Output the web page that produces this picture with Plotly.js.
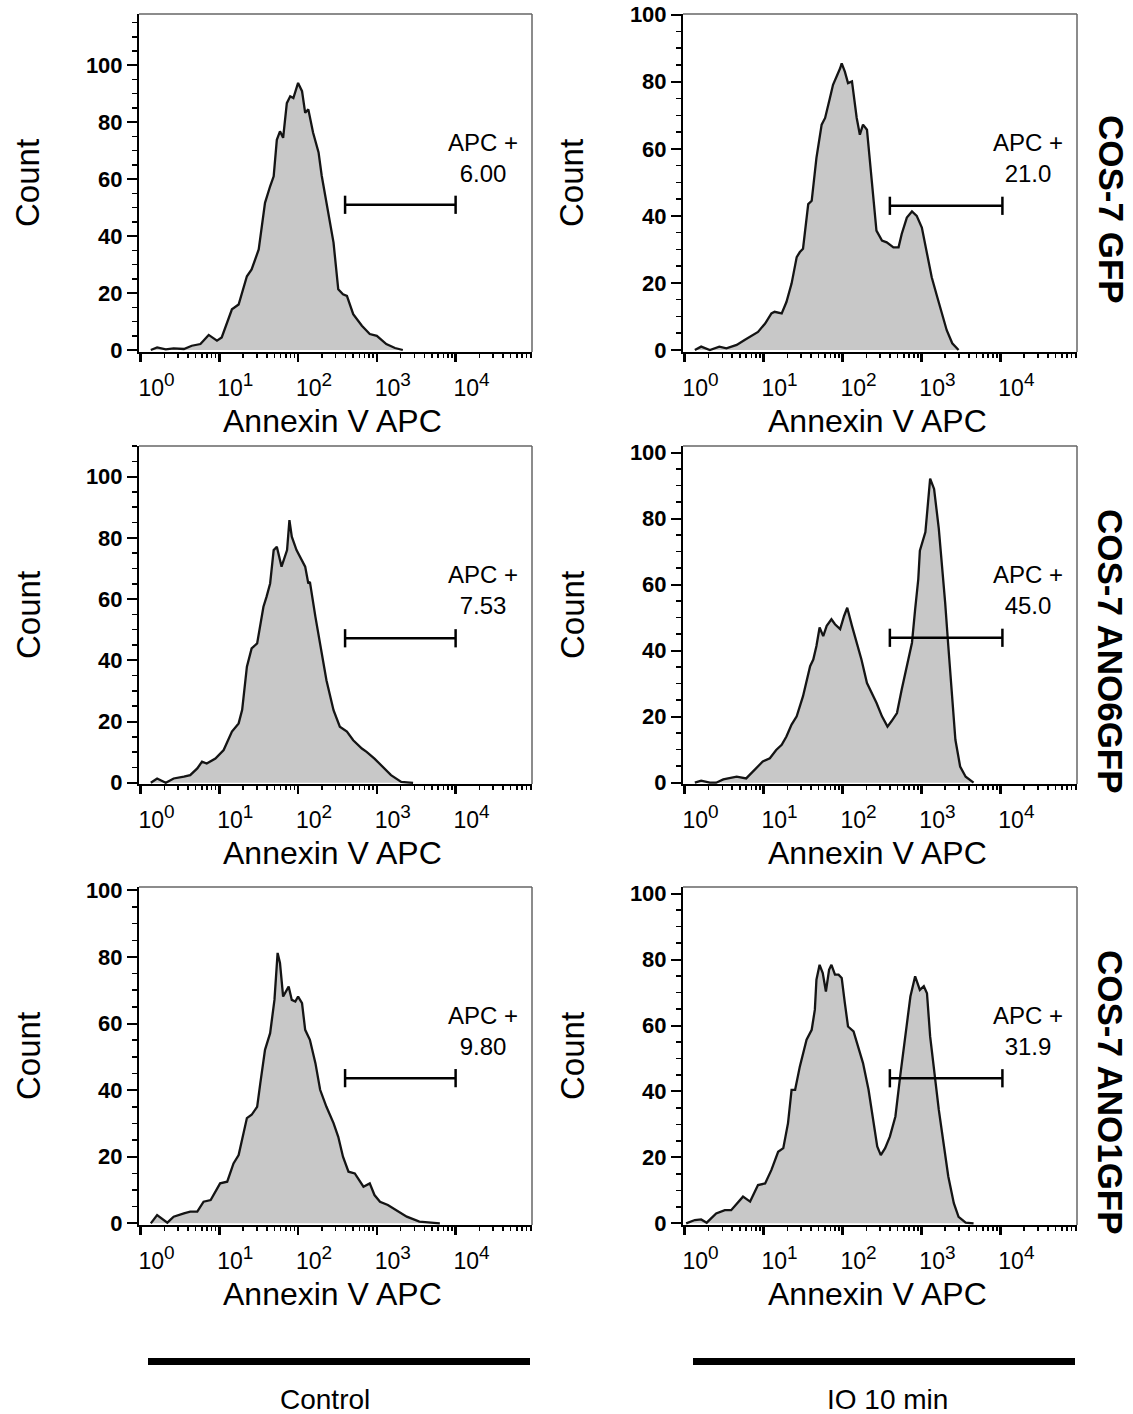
<!DOCTYPE html>
<html>
<head>
<meta charset="utf-8">
<script src="https://cdn.plot.ly/plotly-3.0.1.min.js"></script>
<style>
html,body{margin:0;padding:0;background:#fff;}
#chart{width:1133px;height:1414px;}
</style>
</head>
<body>
<div id="chart"></div>
<script>
// ---------- data (x = log10 of Annexin V APC intensity, y = count) ----------
const gfpCtrlLog   = [0.13,0.21,0.32,0.42,0.55,0.65,0.76,0.865,0.97,1.03,1.16,1.245,1.35,1.41,1.50,1.58,1.645,1.69,1.73,1.77,1.81,1.857,1.90,1.94,2.0,2.05,2.09,2.13,2.19,2.26,2.30,2.36,2.45,2.51,2.57,2.62,2.70,2.81,2.91,3.0,3.12,3.23,3.33];
const gfpCtrlCount = [0,0.9,0.2,0.6,0.35,1.5,2.1,5.3,3.3,4.4,14.3,16,25.9,28.3,35.3,51.7,57.5,61,73.8,76.8,74.5,86.7,89.1,88.5,93.8,90.9,83.3,84.5,76.4,69.4,61.2,51.7,37.7,21.3,19.6,19,12.6,8.5,5.6,5,2.1,0.7,0];

const gfpIoLog   = [0.13,0.21,0.32,0.44,0.53,0.66,0.76,0.87,0.93,1.02,1.10,1.14,1.23,1.29,1.355,1.42,1.46,1.50,1.566,1.61,1.67,1.736,1.78,1.84,1.88,1.97,1.99,2.03,2.07,2.12,2.18,2.22,2.26,2.31,2.37,2.43,2.50,2.56,2.645,2.71,2.75,2.815,2.88,2.94,3.005,3.07,3.13,3.20,3.26,3.32,3.39,3.47];
const gfpIoCount = [0,1,0,1,0.5,1.5,3,4.6,5.4,7.9,10.9,11.4,10.9,14.3,19.8,27.7,29.2,30.2,43.5,44.5,57.3,67.2,69.2,75.1,79.1,84,85.5,83,79.6,80.1,69.2,64.2,67.2,65.7,50.4,35.6,32.6,32.1,30.6,30.6,34.6,39.5,41.3,40,36.5,28.6,21.7,15.8,10.9,5.9,2,0];

const ano6CtrlLog   = [0.13,0.21,0.32,0.42,0.55,0.63,0.72,0.78,0.84,0.95,1.055,1.16,1.245,1.29,1.35,1.41,1.48,1.56,1.60,1.645,1.69,1.73,1.79,1.86,1.89,1.92,1.98,2.025,2.09,2.13,2.15,2.22,2.28,2.36,2.45,2.53,2.62,2.70,2.81,2.87,2.97,3.08,3.18,3.31,3.46];
const ano6CtrlCount = [0,1.4,0,1.4,2,2.5,4.7,6.9,6.3,7.9,10.7,16.7,19.4,23.8,37.9,43.9,45.5,57.5,60.8,65.1,76,77.1,70.6,76,85.8,80.4,76,73.9,70.6,65.1,65.6,54.2,45.5,33.5,23.7,18.3,16.7,13.9,11.2,10.1,7.9,5.2,2.5,0.3,0];

const ano6IoLog   = [0.13,0.21,0.32,0.40,0.49,0.66,0.78,0.89,0.99,1.08,1.16,1.23,1.29,1.355,1.42,1.50,1.59,1.63,1.67,1.71,1.756,1.80,1.86,1.905,1.97,2.02,2.06,2.12,2.18,2.24,2.31,2.37,2.43,2.50,2.57,2.62,2.69,2.75,2.815,2.88,2.92,2.96,2.98,3.05,3.11,3.16,3.22,3.26,3.30,3.34,3.39,3.43,3.49,3.56,3.66];
const ano6IoCount = [0,0.6,0,0,1.0,1.8,1.3,3.9,6.4,7.4,9.9,11.5,14,17.6,20.1,26.2,35.3,37.3,41.4,47,44.4,47.5,49.5,48,46.5,50.5,53,47.5,42.4,37.3,30.2,27.2,24.2,20.1,17,18.6,21.1,28.2,35.3,42.4,52.5,61.7,70.3,75.9,92.1,89,76.9,66.7,54.6,41.4,26.2,13,4.9,1.8,0];

const ano1CtrlLog   = [0.13,0.21,0.34,0.42,0.55,0.63,0.72,0.80,0.89,1.01,1.10,1.18,1.245,1.29,1.35,1.41,1.48,1.52,1.58,1.645,1.70,1.74,1.77,1.81,1.835,1.88,1.92,1.965,2.0,2.05,2.09,2.15,2.22,2.28,2.36,2.45,2.51,2.57,2.64,2.72,2.83,2.91,2.97,3.04,3.14,3.25,3.38,3.54,3.71,3.80];
const ano1CtrlCount = [0,2.5,0.2,2,3,3.5,3.5,6.5,7,12,12.5,18,20.5,25,31.6,32.6,35,42,52.1,57.1,67.1,81.2,78.2,68.1,69.2,71.1,67.1,66.6,68.1,66.1,58.1,55.1,48.1,40.1,35,30.1,26,20,15.5,15,11,12,8.5,6.5,5.5,4,2,0.5,0.2,0];

const ano1IoLog   = [0.02,0.13,0.21,0.28,0.40,0.51,0.59,0.70,0.74,0.83,0.93,1.02,1.10,1.185,1.25,1.31,1.355,1.40,1.46,1.545,1.61,1.65,1.67,1.71,1.75,1.79,1.83,1.86,1.905,1.95,1.99,2.03,2.07,2.14,2.20,2.26,2.33,2.39,2.44,2.485,2.54,2.60,2.67,2.73,2.79,2.86,2.92,2.98,3.03,3.07,3.11,3.16,3.22,3.28,3.34,3.41,3.47,3.56,3.66];
const ano1IoCount = [0,1,1.2,0.2,3,4,4,7.1,8.1,6.6,11.6,12.1,16.2,21.7,22.8,30.4,40.5,40.5,47.6,55.7,58.7,64.8,73.9,78.4,75.9,70.3,76.9,78.4,75.4,75.4,74.4,66.8,59.7,58.2,53.6,48.6,40.5,30.4,23.3,20.7,22.8,26.3,32.4,44.5,55.7,68.8,74.9,70.8,71.9,69.8,56.7,46.5,34.4,24.3,14.2,6.1,2,0.2,0];

// APC+ gate (intensity range and count level) and gate percentages
const gateLow  = [395, 398, 395, 398, 395, 398];
const gateHigh = [10000, 10600, 10000, 10600, 10000, 10600];
const gateY    = [51, 43, 47.2, 43.9, 43.6, 44];
const apcPct   = ['6.00', '21.0', '7.53', '45.0', '9.80', '31.9'];

// labels
const rowLabels = ['COS-7 GFP', 'COS-7 ANO6GFP', 'COS-7 ANO1GFP'];
const colLabels = ['Control', 'IO 10 min'];
const xTickVals = [1, 10, 100, 1000, 10000];
const xTickExp  = ['0', '1', '2', '3', '4'];
const xTitle = 'Annexin V APC';
const yTitle = 'Count';

// ---------- build ----------
const panelLog   = [gfpCtrlLog, gfpIoLog, ano6CtrlLog, ano6IoLog, ano1CtrlLog, ano1IoLog];
const panelCount = [gfpCtrlCount, gfpIoCount, ano6CtrlCount, ano6IoCount, ano1CtrlCount, ano1IoCount];
const xTickText  = xTickExp.map(e => '10<sup><span style="font-size:19px">' + e + '</span></sup>');

const FONT = 'Liberation Sans, Arial, Helvetica, sans-serif';
const W = 1133, H = 1414;
const colX = [[139 / W, 532 / W], [683 / W, 1077 / W]];
const rowY = [[1 - 352 / H, 1 - 14 / H], [1 - 784 / H, 1 - 446 / H], [1 - 1225 / H, 1 - 887 / H]];
const yRanges = [[-0.7, 118], [-0.6, 100.2], [-0.4, 110], [-0.4, 102], [-0.5, 101], [-0.5, 102]];

const traces = [];
const layout = {
  width: W, height: H,
  margin: {l: 0, r: 0, t: 0, b: 0},
  paper_bgcolor: '#ffffff', plot_bgcolor: '#ffffff',
  showlegend: false, hovermode: false,
  font: {family: FONT, color: '#000'},
  shapes: [], annotations: []
};

for (let i = 0; i < 6; i++) {
  const col = i % 2, row = Math.floor(i / 2);
  const sfx = i ? String(i + 1) : '';
  const xr = 'x' + sfx, yr = 'y' + sfx;

  traces.push({
    type: 'scatter', mode: 'lines', xaxis: xr, yaxis: yr,
    x: panelLog[i].map(v => Math.pow(10, v)), y: panelCount[i],
    fill: 'tozeroy', fillcolor: '#c8c8c8',
    line: {color: '#141414', width: 2.3, shape: 'linear'},
    hoverinfo: 'skip'
  });
  traces.push({
    type: 'scatter', mode: 'lines+markers', xaxis: xr, yaxis: yr,
    x: [gateLow[i], gateHigh[i]], y: [gateY[i], gateY[i]],
    line: {color: '#000', width: 2.5},
    marker: {symbol: 'line-ns-open', size: 13, color: '#000', line: {color: '#000', width: 2.5}},
    hoverinfo: 'skip'
  });

  layout['xaxis' + sfx] = {
    domain: colX[col], anchor: yr, type: 'log', range: [-0.02, 4.97],
    showgrid: false, zeroline: false,
    showline: true, linecolor: '#000', linewidth: 2,
    ticks: 'outside', ticklen: 8, tickwidth: 2.5, tickcolor: '#000',
    tickmode: 'array', tickvals: xTickVals, ticktext: xTickText,
    ticklabelshift: 16, ticklabelstandoff: 6,
    tickfont: {family: FONT, size: 23, color: '#000'},
    minor: {ticks: 'outside', ticklen: 4, tickwidth: 1.5, tickcolor: '#000', dtick: 'D1', showgrid: false},
    fixedrange: true
  };
  layout['yaxis' + sfx] = {
    domain: rowY[row], anchor: xr, range: yRanges[i],
    showgrid: false, zeroline: false,
    showline: true, linecolor: '#000', linewidth: 2,
    ticks: 'outside', ticklen: 10, tickwidth: 2, tickcolor: '#000',
    tickmode: 'linear', tick0: 0, dtick: 20,
    tickfont: {family: FONT, size: 22, color: '#000', weight: 'bold'},
    minor: {ticks: 'outside', ticklen: 5, tickwidth: 1.5, tickcolor: '#000', dtick: 5, showgrid: false},
    fixedrange: true
  };

  // top and right frame lines (lighter than the axes)
  layout.shapes.push({type: 'line', xref: xr + ' domain', yref: yr + ' domain', x0: 0, x1: 1, y0: 1, y1: 1, line: {color: '#666', width: 1.5}});
  layout.shapes.push({type: 'line', xref: xr + ' domain', yref: yr + ' domain', x0: 1, x1: 1, y0: 0, y1: 1, line: {color: '#666', width: 1.5}});

  // axis titles
  layout.annotations.push({
    xref: xr + ' domain', yref: yr + ' domain', x: 0.5, y: 0, xshift: -3, yshift: -69,
    xanchor: 'center', yanchor: 'middle', showarrow: false,
    text: xTitle, font: {family: FONT, size: 32, color: '#000'}
  });
  layout.annotations.push({
    xref: xr + ' domain', yref: yr + ' domain', x: 0, y: 0.5, xshift: -111,
    xanchor: 'center', yanchor: 'middle', showarrow: false, textangle: -90,
    text: yTitle, font: {family: FONT, size: 33, color: '#000'}
  });

  // gate label
  layout.annotations.push({
    xref: xr + ' domain', yref: yr + ' domain', x: 0.875, y: 0.574,
    xanchor: 'center', yanchor: 'middle',
    text: 'APC +<br>' + apcPct[i], showarrow: false, align: 'center',
    font: {family: FONT, size: 24, color: '#000'}
  });
}

// row labels on the right
const rowLabelY = [1 - 209 / H, 1 - 651 / H, 1 - 1092 / H];
rowLabels.forEach((t, r) => {
  layout.annotations.push({
    xref: 'paper', yref: 'paper', x: 1111 / W, y: rowLabelY[r], textangle: 90,
    text: t, showarrow: false, xanchor: 'center', yanchor: 'middle',
    font: {family: FONT, size: 35, color: '#000', weight: 'bold'}
  });
});

// column bars and labels at the bottom
const colBar = [[148 / W, 530 / W], [693 / W, 1075 / W]];
const colLabelX = [325 / W, 887 / W];
colLabels.forEach((t, c) => {
  layout.shapes.push({type: 'line', xref: 'paper', yref: 'paper', x0: colBar[c][0], x1: colBar[c][1], y0: 1 - 1361.5 / H, y1: 1 - 1361.5 / H, line: {color: '#000', width: 7}});
  layout.annotations.push({
    xref: 'paper', yref: 'paper', x: colLabelX[c], y: 1 - 1399 / H,
    text: t, showarrow: false, xanchor: 'center', yanchor: 'middle',
    font: {family: FONT, size: 28, color: '#000'}
  });
});

Plotly.newPlot('chart', traces, layout, {staticPlot: true, displayModeBar: false});
</script>
</body>
</html>
